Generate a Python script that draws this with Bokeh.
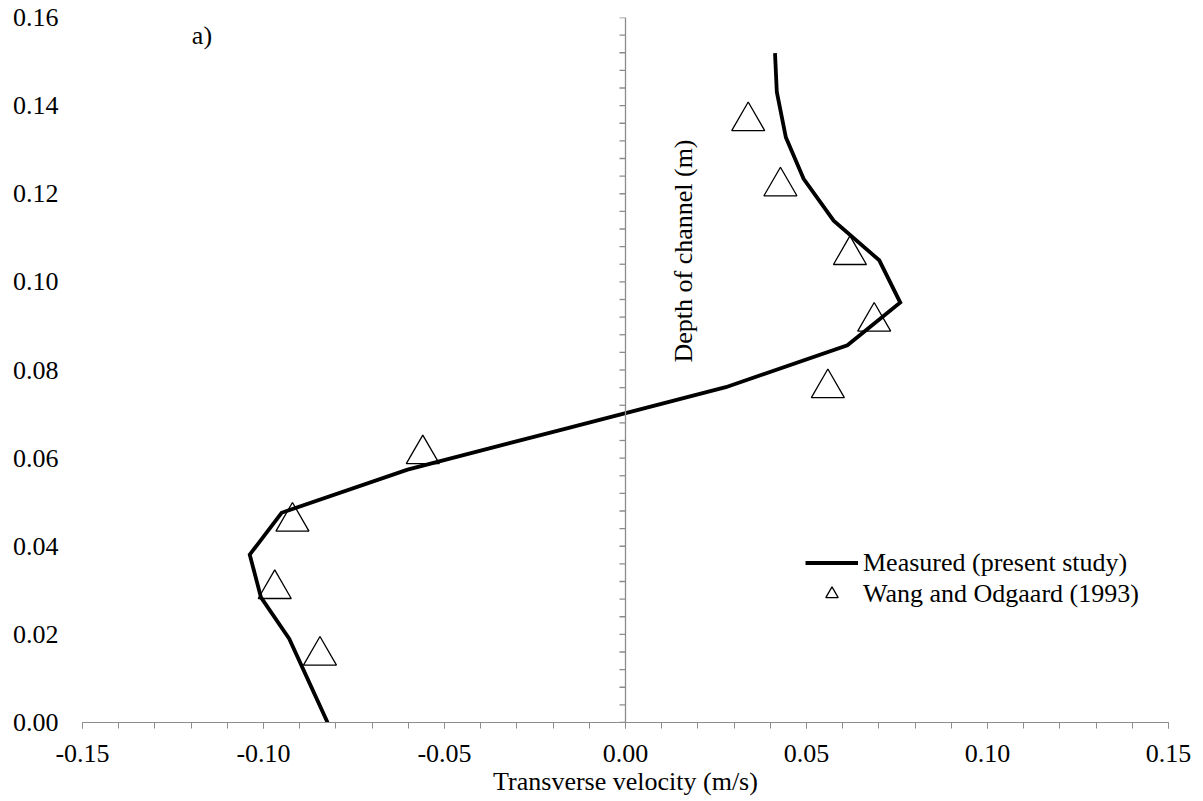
from bokeh.plotting import figure
from bokeh.models import Range1d, FixedTicker, PrintfTickFormatter, Label, Legend, LegendItem, Span
from bokeh.embed import file_html
from bokeh.resources import INLINE
import math

# Measured (present study)
measured_v = [0.0413, 0.0418, 0.0443, 0.0492, 0.0575, 0.0701, 0.0759, 0.0613, 0.0277,
              -0.0170, -0.0602, -0.0950, -0.1038, -0.1007, -0.0929, -0.0876, -0.0823]
measured_d = [0.1519, 0.1431, 0.1328, 0.1234, 0.1139, 0.1049, 0.0953, 0.0856, 0.0761,
              0.0666, 0.0574, 0.0476, 0.0381, 0.0284, 0.0190, 0.0095, 0.0000]

# Wang and Odgaard (1993)
wang_v = [0.0339, 0.0428, 0.0620, 0.0687, 0.0559, -0.0560, -0.0920, -0.0969, -0.0844]
wang_d = [0.1365, 0.1217, 0.1061, 0.0910, 0.0759, 0.0609, 0.0456, 0.0303, 0.0152]

x_ticks = [-0.15, -0.10, -0.05, 0.0, 0.05, 0.10, 0.15]
x_minor = [round(-0.15 + 0.01 * i, 2) for i in range(31)]
y_ticks = [0.0, 0.02, 0.04, 0.06, 0.08, 0.10, 0.12, 0.14, 0.16]
y_minor = [round(0.004 * i, 3) for i in range(41)]

FONT = "Liberation Serif"
FS = "26px"
GRAY = "#8c8c8c"

W, H = 1203, 801
BL, BR, BT, BB = 82, 35, 17, 79

p = figure(width=W, height=H, output_backend="svg", toolbar_location=None,
           x_range=Range1d(-0.15, 0.15), y_range=Range1d(0, 0.16),
           min_border_left=BL, min_border_right=BR, min_border_top=BT, min_border_bottom=BB)
p.outline_line_color = None
p.xgrid.visible = False
p.ygrid.visible = False
p.background_fill_color = "white"

# x axis
xa = p.xaxis[0]
xa.ticker = FixedTicker(ticks=x_ticks, minor_ticks=x_minor)
xa.formatter = PrintfTickFormatter(format="%.2f")
xa.axis_line_color = GRAY
xa.major_tick_line_color = GRAY
xa.minor_tick_line_color = GRAY
xa.major_tick_out = 6
xa.major_tick_in = 0
xa.minor_tick_out = 6
xa.minor_tick_in = 0
xa.major_label_standoff = 16
xa.major_label_text_font = FONT
xa.major_label_text_font_size = FS
xa.major_label_text_color = "black"
xa.axis_label = "Transverse velocity (m/s)"
xa.axis_label_text_font = FONT
xa.axis_label_text_font_size = FS
xa.axis_label_text_font_style = "normal"
xa.axis_label_text_color = "black"
xa.axis_label_standoff = 2

# y axis (labels only, at left)
ya = p.yaxis[0]
ya.ticker = FixedTicker(ticks=y_ticks)
ya.formatter = PrintfTickFormatter(format="%.2f")
ya.axis_line_color = None
ya.major_tick_line_color = None
ya.minor_tick_line_color = None
ya.major_tick_out = 0
ya.major_tick_in = 0
ya.major_label_standoff = 24
ya.major_label_text_font = FONT
ya.major_label_text_font_size = FS
ya.major_label_text_color = "black"

# vertical axis line at x = 0 with tick marks pointing left
p.add_layout(Span(location=0, dimension="height", line_color=GRAY, line_width=1.3))
frame_w = W - BL - BR
tick_len = 6 * 0.30 / frame_w
p.segment(x0=[0.0] * len(y_minor), y0=y_minor, x1=[-tick_len] * len(y_minor), y1=y_minor,
          line_color=GRAY, line_width=1.3)

r_line = p.line(measured_v, measured_d, line_color="black", line_width=3.8, line_join="miter")
r_tri = p.scatter(wang_v, wang_d, marker="triangle", size=33, fill_color=None,
                  line_color="black", line_width=1.3)

p.add_layout(Label(x=0.0160, y=0.107, text="Depth of channel (m)", angle=math.pi / 2,
                   text_align="center", text_baseline="middle", text_font=FONT,
                   text_font_size=FS, text_color="black"))
p.add_layout(Label(x=-0.117, y=0.156, text="a)", text_align="center", text_baseline="middle",
                   text_font=FONT, text_font_size=FS, text_color="black"))

legend = Legend(items=[LegendItem(label="Measured (present study)", renderers=[r_line]),
                       LegendItem(label="Wang and Odgaard (1993)", renderers=[r_tri])],
                location=(723, 113))
legend.background_fill_alpha = 0
legend.border_line_color = None
legend.padding = 0
legend.margin = 0
legend.spacing = 0
legend.glyph_width = 53
legend.glyph_height = 31
legend.label_height = 31
legend.label_standoff = 5
legend.label_text_font = FONT
legend.label_text_font_size = FS
legend.label_text_color = "black"
p.add_layout(legend)

open("out.html", "w").write(file_html(p, INLINE))
